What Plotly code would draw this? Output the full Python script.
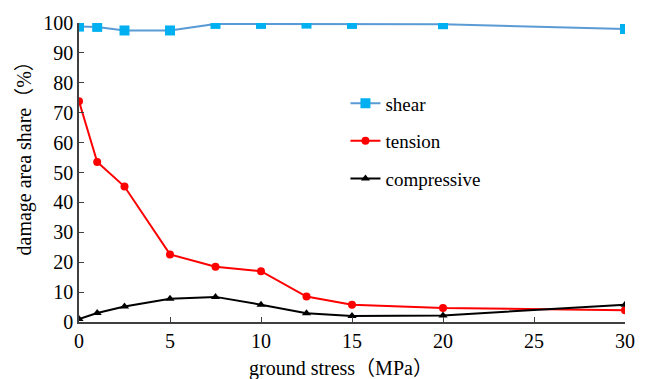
import plotly.graph_objects as go

# ground stress (MPa)
stress = [0, 1, 2.5, 5, 7.5, 10, 12.5, 15, 20, 30]

# share of damaged area by failure type (%)
shear = [98.8, 98.7, 97.5, 97.5, 99.7, 99.7, 99.8, 99.7, 99.6, 98.0]
tension = [73.8, 53.5, 45.3, 22.6, 18.5, 17.0, 8.5, 5.8, 4.7, 3.9]
compressive = [1.0, 3.0, 5.2, 7.8, 8.4, 5.8, 2.9, 2.0, 2.2, 5.8]

x_ticks = [0, 5, 10, 15, 20, 25, 30]
y_ticks = [0, 10, 20, 30, 40, 50, 60, 70, 80, 90, 100]

x_title = "ground stress（MPa）"
y_title = "damage area share（%）"

font_family = "Times New Roman, Liberation Serif, Noto Sans CJK SC, serif"
tick_size = 20
title_size = 20
legend_size = 19

fig = go.Figure()
fig.add_trace(go.Scatter(
    x=stress, y=shear, name="shear", mode="lines+markers",
    line=dict(color="#5B9BD5", width=2),
    marker=dict(symbol="square", size=10, color="#00B0F0"),
    legendgroup="a",
))
fig.add_trace(go.Scatter(
    x=stress, y=tension, name="tension", mode="lines+markers",
    line=dict(color="#FF0000", width=2),
    marker=dict(symbol="circle", size=8, color="#FF0000"),
    legendgroup="b",
))
fig.add_trace(go.Scatter(
    x=stress, y=compressive, name="compressive", mode="lines+markers",
    line=dict(color="#000000", width=2),
    marker=dict(symbol="triangle-up", size=8, color="#000000"),
    legendgroup="c",
))

axis_common = dict(
    showgrid=False, zeroline=False, showline=True,
    linecolor="#404040", linewidth=1.5,
    ticks="inside", ticklen=5, tickwidth=1, tickcolor="#404040",
    tickfont=dict(family=font_family, size=tick_size, color="#000000"),
)

fig.update_xaxes(range=[0, 30], tickvals=x_ticks, **axis_common)
fig.update_yaxes(range=[0, 100], tickvals=y_ticks, ticklabelstandoff=0, **axis_common)

title_font = dict(family=font_family, size=title_size, color="#000000")
fig.add_annotation(
    text=x_title, xref="paper", yref="paper", x=0.479, y=-0.11,
    xanchor="center", yanchor="top", showarrow=False, font=title_font,
)
fig.add_annotation(
    text=y_title, xref="paper", yref="paper", x=-0.1, y=0.565,
    xanchor="center", yanchor="middle", textangle=-90, showarrow=False, font=title_font,
)

fig.update_layout(
    width=648, height=379,
    margin=dict(l=79, r=23, t=19, b=57),
    plot_bgcolor="white", paper_bgcolor="white",
    font=dict(family=font_family, color="#000000"),
    legend=dict(
        x=0.488, y=0.795, xanchor="left", yanchor="top",
        font=dict(family=font_family, size=legend_size, color="#000000"),
        bgcolor="rgba(0,0,0,0)", traceorder="grouped", tracegroupgap=10,
    ),
)

fig.write_html("out.html")
